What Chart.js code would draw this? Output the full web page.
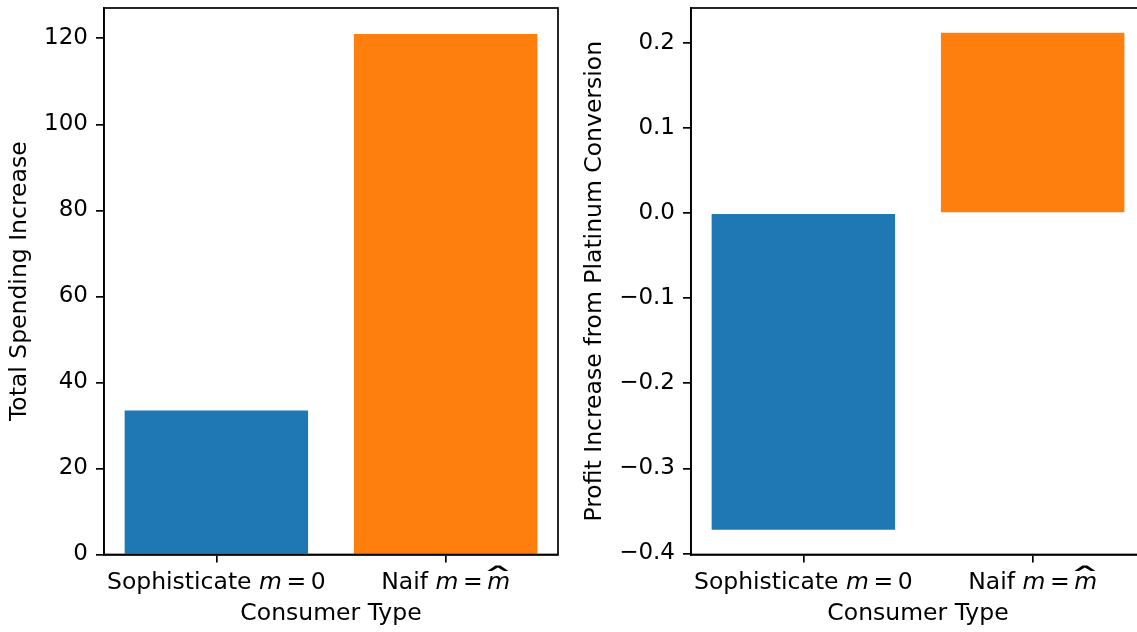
<!DOCTYPE html>
<html>
<head>
<meta charset="utf-8">
<script src="https://cdn.jsdelivr.net/npm/chart.js@4/dist/chart.umd.min.js"></script>
<style>
  html, body { margin: 0; padding: 0; background: #fff; overflow: hidden; }
  #wrap { position: relative; width: 1137px; height: 632px; overflow: hidden; background: #fff; }
  .pane { position: absolute; top: 0; height: 632px; }
</style>
</head>
<body>
<div id="wrap">
  <div class="pane" style="left:0; width:568px;"><canvas id="spending" width="568" height="632"></canvas></div>
  <div class="pane" style="left:577px; width:578px;"><canvas id="profit" width="578" height="632"></canvas></div>
</div>
<script>
// Consumer types and the value of m for each
const consumerTypes = ['Sophisticate', 'Naif'];
const mValues = ['0', 'm\u0302'];

// Series
const spendingIncrease = [33.5, 121.0];
const profitIncrease = [-0.372, 0.212];

// Tick labels for the value axes
const spendingTicks = [0, 20, 40, 60, 80, 100, 120];
const profitTicks = [-0.4, -0.3, -0.2, -0.1, 0.0, 0.1, 0.2];

const barColors = ['#1f77b4', '#ff7f0e'];

const FONT_FAMILY = '"DejaVu Sans", "Liberation Sans", sans-serif';
const TICK_SIZE = 23;
const CAT_SIZE = 23.5;
const LABEL_SIZE = 23.5;
const LINE_W = 1.7;
const HAT = '\u0302';

// Closed frame around the plotting area (all four spines)
const framePlugin = {
  id: 'frame',
  afterDatasetsDraw(chart) {
    const { ctx, chartArea: a } = chart;
    ctx.save();
    ctx.strokeStyle = '#000';
    ctx.lineWidth = LINE_W;
    ctx.strokeRect(a.left, a.top, a.right - a.left, a.bottom - a.top);
    ctx.restore();
  }
};

// Draws an italic symbol with a wide circumflex accent stretched over it
function drawHatted(ctx, ch, x, y, italic, upright) {
  ctx.font = italic;
  ctx.fillText(ch, x, y);
  const m = ctx.measureText(ch);
  const inkL = x - m.actualBoundingBoxLeft;
  const inkR = x + m.actualBoundingBoxRight;
  ctx.font = upright;
  const h = ctx.measureText('\u02C6');
  const hw = h.actualBoundingBoxLeft + h.actualBoundingBoxRight;
  const hh = h.actualBoundingBoxAscent + h.actualBoundingBoxDescent;
  const targetW = (inkR - inkL) + 1;
  const targetH = 0.26 * CAT_SIZE;
  const top = y - 0.98 * CAT_SIZE;
  ctx.save();
  ctx.translate(inkL - 0.5, top);
  ctx.scale(targetW / hw, targetH / hh);
  ctx.fillText('\u02C6', h.actualBoundingBoxLeft, h.actualBoundingBoxAscent);
  ctx.restore();
  return m.width;
}

// Category labels of the form "Name m = value", with m set in italics
const categoryLabelPlugin = {
  id: 'categoryLabels',
  afterDraw(chart) {
    const { ctx, chartArea: a } = chart;
    const xs = chart.scales.x;
    const upright = `${CAT_SIZE}px ${FONT_FAMILY}`;
    const italic = `italic ${CAT_SIZE}px ${FONT_FAMILY}`;
    ctx.save();
    ctx.fillStyle = '#000';
    ctx.textBaseline = 'alphabetic';
    ctx.textAlign = 'left';
    consumerTypes.forEach((name, i) => {
      const rhs = mValues[i];
      const hatted = rhs.endsWith(HAT);
      const base = hatted ? rhs.slice(0, -HAT.length) : rhs;
      ctx.font = italic;
      const relSpace = 0.2 * ctx.measureText('m').width;
      const pieces = [
        { t: name + ' ', f: upright, pad: 0 },
        { t: 'm', f: italic, pad: 0 },
        { t: '=', f: upright, pad: relSpace },
        { t: base, f: /^[0-9.]+$/.test(base) ? upright : italic, pad: 0, hat: hatted }
      ];
      let total = 0;
      pieces.forEach(p => {
        ctx.font = p.f;
        p.w = ctx.measureText(p.t).width;
        total += p.w + 2 * p.pad;
      });
      let x = xs.getPixelForValue(i) - total / 2;
      const y = a.bottom + 34;
      pieces.forEach(p => {
        x += p.pad;
        if (p.hat) {
          drawHatted(ctx, p.t, x, y, italic, upright);
        } else {
          ctx.font = p.f;
          ctx.fillText(p.t, x, y);
        }
        x += p.w + p.pad;
      });
    });
    ctx.restore();
  }
};

function formatTick(v, decimals) {
  const s = Math.abs(v).toFixed(decimals);
  return (v < -1e-12 ? '\u2212' : '') + s;
}

function makeChart(canvasId, values, tickValues, yMin, yMax, yTitle, decimals, yAxisWidth, titlePad) {
  return new Chart(document.getElementById(canvasId), {
    type: 'bar',
    data: {
      datasets: [{
        data: values.map((v, i) => ({ x: i, y: v })),
        backgroundColor: barColors,
        borderWidth: 0,
        barPercentage: 0.8,
        categoryPercentage: 1.0
      }]
    },
    options: {
      responsive: false,
      animation: false,
      events: [],
      layout: { padding: { top: 8, right: 10, left: 0, bottom: 0 } },
      plugins: { legend: { display: false }, tooltip: { enabled: false } },
      scales: {
        x: {
          type: 'linear',
          offset: false,
          min: -0.49,
          max: 1.49,
          afterBuildTicks: s => { s.ticks = consumerTypes.map((_, i) => ({ value: i })); },
          afterFit: s => { s.height = 77.5; s.paddingLeft = 0; s.paddingRight = 0; },
          ticks: { display: false },
          grid: { drawOnChartArea: false, drawTicks: true, tickLength: 8, lineWidth: LINE_W, color: '#000', offset: false },
          border: { display: true, color: '#000', width: LINE_W },
          title: {
            display: true, text: 'Consumer Type', color: '#000',
            font: { family: FONT_FAMILY, size: LABEL_SIZE },
            padding: { top: 0, bottom: 3.6 }
          }
        },
        y: {
          type: 'linear',
          min: yMin,
          max: yMax,
          afterBuildTicks: s => { s.ticks = tickValues.map(v => ({ value: v })); },
          afterFit: s => { s.width = yAxisWidth; s.paddingTop = 0; s.paddingBottom = 0; },
          ticks: {
            color: '#000',
            font: { family: FONT_FAMILY, size: TICK_SIZE },
            padding: 8,
            callback: v => formatTick(v, decimals)
          },
          grid: { drawOnChartArea: false, drawTicks: true, tickLength: 8, lineWidth: LINE_W, color: '#000' },
          border: { display: true, color: '#000', width: LINE_W },
          title: {
            display: true, text: yTitle, color: '#000',
            font: { family: FONT_FAMILY, size: LABEL_SIZE },
            padding: { top: titlePad, bottom: 0 }
          }
        }
      }
    },
    plugins: [framePlugin, categoryLabelPlugin]
  });
}

makeChart('spending', spendingIncrease, spendingTicks, 0, 127.05,
  'Total Spending Increase', 0, 104, 5.8);
makeChart('profit', profitIncrease, profitTicks, -0.4012, 0.2412,
  'Profit Increase from Platinum Conversion', 1, 114, 3.8);
</script>
</body>
</html>
